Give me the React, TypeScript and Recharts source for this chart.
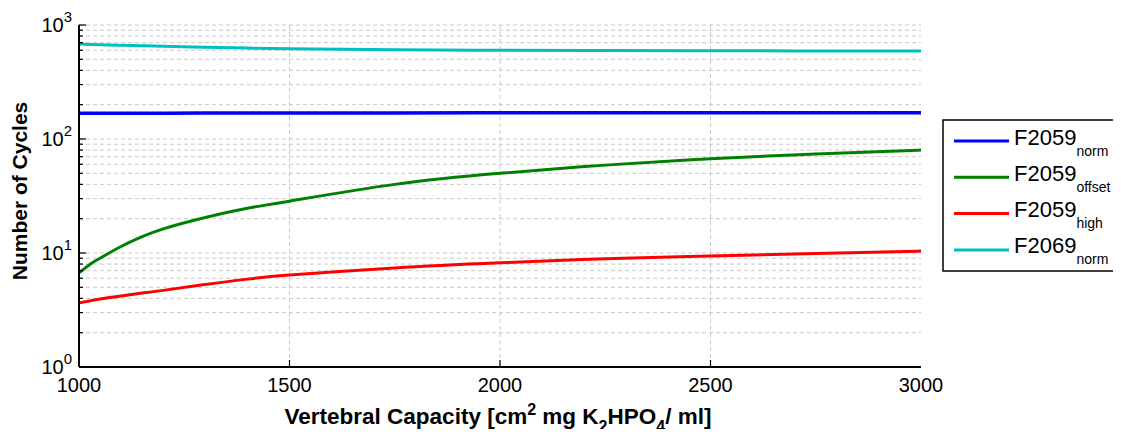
import * as React from 'react';
import { LineChart, Line, XAxis, YAxis, CartesianGrid } from 'recharts';

// vertebral capacity samples
const capacity = [1000, 1025, 1050, 1100, 1150, 1200, 1300, 1400, 1500, 1750, 2000, 2250, 2500, 2750, 3000];

const f2059Norm = [168, 168, 168, 168.2, 168.4, 168.6, 168.8, 169, 169.2, 169.5, 169.8, 170, 170, 170, 170];
const f2059Offset = [6.7, 7.9, 9.0, 11.4, 13.9, 16.3, 20.5, 24.7, 28.5, 40, 50, 59, 67, 74, 80];
const f2059High = [3.65, 3.8, 3.95, 4.2, 4.45, 4.7, 5.3, 5.9, 6.4, 7.4, 8.2, 8.9, 9.4, 9.9, 10.4];
const f2069Norm = [680, 676, 672, 665, 658, 651, 638, 627, 620, 607, 600, 596, 594, 592, 590];

const xTicks = [1000, 1500, 2000, 2500, 3000];
const decades = [1, 10, 100, 1000];
const minorTicks = [2, 3, 4, 5, 6, 7, 8, 9, 20, 30, 40, 50, 60, 70, 80, 90, 200, 300, 400, 500, 600, 700, 800, 900];

const series = [
    { key: 'f2059Norm', name: 'F2059', sub: 'norm', color: '#0000ff', width: 3.5 },
    { key: 'f2059Offset', name: 'F2059', sub: 'offset', color: '#008000', width: 3 },
    { key: 'f2059High', name: 'F2059', sub: 'high', color: '#ff0000', width: 3 },
    { key: 'f2069Norm', name: 'F2069', sub: 'norm', color: '#00bfbf', width: 3 },
];

const data = capacity.map((c, i) => ({
    capacity: c,
    f2059Norm: f2059Norm[i],
    f2059Offset: f2059Offset[i],
    f2059High: f2059High[i],
    f2069Norm: f2069Norm[i],
}));

const font = '"Liberation Sans", Arial, sans-serif';
const allY = [...decades, ...minorTicks].sort((a, b) => a - b);

const LeftTick = (props: any) => {
    const { x, y, payload } = props;
    const v = payload.value;
    const isMajor = decades.includes(v);
    const ax = x + 6;
    return (
        <g>
            <line x1={ax} y1={y} x2={ax + (isMajor ? 7 : 4)} y2={y} stroke='#000' strokeWidth={1.2} />
            {isMajor && (
                <text x={x - 1} y={y + 7} textAnchor='end' fontFamily={font} fontSize={20} fill='#000'>
                    10<tspan dy={-10} fontSize={15}>{Math.round(Math.log10(v))}</tspan>
                </text>
            )}
        </g>
    );
};

const RightTick = (props: any) => {
    const { x, y, payload } = props;
    const isMajor = decades.includes(payload.value);
    return <line x1={x} y1={y} x2={x - (isMajor ? 7 : 4)} y2={y} stroke='#000' strokeWidth={1.2} />;
};

const BottomTick = (props: any) => {
    const { x, y, payload } = props;
    const ay = y - 10;
    const inner = payload.value !== 1000 && payload.value !== 3000;
    return (
        <g>
            {inner && <line x1={x} y1={ay} x2={x} y2={ay - 7} stroke='#000' strokeWidth={1.2} />}
            <text x={x} y={ay + 25} textAnchor='middle' fontFamily={font} fontSize={20} fill='#000'>
                {payload.value}
            </text>
        </g>
    );
};

const TopTick = (props: any) => {
    const { x, y, payload } = props;
    const inner = payload.value !== 1000 && payload.value !== 3000;
    return inner ? <line x1={x} y1={y} x2={x} y2={y + 7} stroke='#000' strokeWidth={1.2} /> : <g />;
};

const XLabel = (props: any) => {
    const vb = props.viewBox;
    return (
        <text x={vb.x + vb.width / 2 - 2} y={vb.y + 57} textAnchor='middle' fontFamily={font} fontSize={22.5} fontWeight='bold' fill='#000'>
            Vertebral Capacity [cm<tspan dy={-9} fontSize={16}>2</tspan>
            <tspan dy={9}> mg K</tspan>
            <tspan dy={8} fontSize={16}>2</tspan>
            <tspan dy={-8}>HPO</tspan>
            <tspan dy={8} fontSize={16}>4</tspan>
            <tspan dy={-8}>/ ml]</tspan>
        </text>
    );
};

const YLabel = (props: any) => {
    const vb = props.viewBox;
    const cx = 11;
    const cy = vb.y + vb.height / 2 - 5;
    return (
        <text x={cx} y={cy} transform={`rotate(-90 ${cx} ${cy})`} textAnchor='middle' dominantBaseline='central'
            fontFamily={font} fontSize={21} fontWeight='bold' fill='#000'>
            Number of Cycles
        </text>
    );
};

// legend drawn as its own small svg, placed over the right side of the page
const LegendBox = () => (
    <svg width={171} height={154} style={{ position: 'absolute', left: 934, top: 111, overflow: 'hidden' }}>
        <rect x={1} y={1} width={200} height={151} fill='#fff' stroke='#000' strokeWidth={1.5} />
        {series.map((s, i) => {
            const cy = 22 + i * 36.3;
            return (
                <g key={s.key}>
                    <line x1={12} y1={cy} x2={67} y2={cy} stroke={s.color} strokeWidth={3} />
                    <text x={72} y={cy + 3.5} fontFamily={font} fontSize={22} fill='#000'>
                        {s.name}
                        <tspan dy={11} fontSize={14}>{s.sub}</tspan>
                    </text>
                </g>
            );
        })}
    </svg>
);

export default function App() {
    return (
        <div style={{ position: 'relative', width: 1105, height: 429, marginBottom: -8 }}>
            <LineChart width={1105} height={429} data={data} margin={{ top: 17, right: 192, bottom: 0, left: 0 }}>
                <CartesianGrid
                    stroke='#c8c8c8'
                    strokeDasharray='4 3'
                    horizontalValues={allY}
                    verticalValues={[1500, 2000, 2500]}
                    yAxisId='left'
                />
                <XAxis
                    dataKey='capacity'
                    type='number'
                    domain={[1000, 3000]}
                    ticks={xTicks}
                    height={70}
                    tickSize={0}
                    tickMargin={10}
                    tick={<BottomTick />}
                    axisLine={{ stroke: '#000', strokeWidth: 2 }}
                    tickLine={false}
                    interval={0}
                    label={<XLabel />}
                />
                <XAxis
                    xAxisId='top'
                    orientation='top'
                    dataKey='capacity'
                    type='number'
                    domain={[1000, 3000]}
                    ticks={xTicks}
                    height={0}
                    tickSize={0}
                    tickMargin={0}
                    tick={<TopTick />}
                    axisLine={{ stroke: '#000', strokeWidth: 2 }}
                    tickLine={false}
                    interval={0}
                />
                <YAxis
                    yAxisId='left'
                    scale='log'
                    domain={[1, 1000]}
                    ticks={allY}
                    width={71}
                    tickSize={0}
                    tickMargin={6}
                    tick={<LeftTick />}
                    axisLine={{ stroke: '#000', strokeWidth: 2 }}
                    tickLine={false}
                    interval={0}
                    allowDataOverflow
                    label={<YLabel />}
                />
                <YAxis
                    yAxisId='right'
                    orientation='right'
                    scale='log'
                    domain={[1, 1000]}
                    ticks={allY}
                    width={0}
                    tickSize={0}
                    tickMargin={0}
                    tick={<RightTick />}
                    axisLine={{ stroke: '#000', strokeWidth: 2 }}
                    tickLine={false}
                    interval={0}
                    allowDataOverflow
                />
                {series.map((s) => (
                    <Line
                        key={s.key}
                        yAxisId='left'
                        type='natural'
                        dataKey={s.key}
                        name={s.name + s.sub}
                        stroke={s.color}
                        strokeWidth={s.width}
                        dot={false}
                        isAnimationActive={false}
                    />
                ))}
            </LineChart>
            <LegendBox />
        </div>
    );
}
